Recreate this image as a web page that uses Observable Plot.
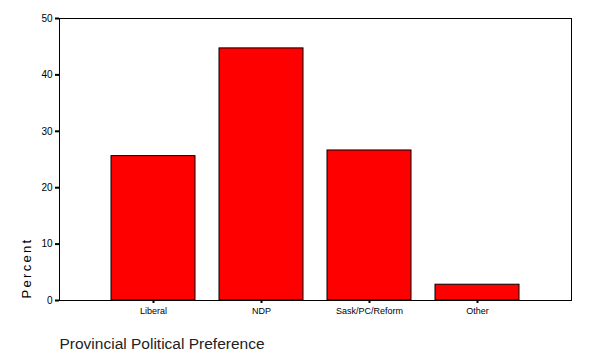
<!DOCTYPE html>
<html>
<head>
<meta charset="utf-8">
<script src="https://cdn.jsdelivr.net/npm/d3@7"></script>
<script src="https://cdn.jsdelivr.net/npm/@observablehq/plot@0.6"></script>
<style>
  body { margin: 0; background: #fff; }
  #chart svg { display: block; }
</style>
</head>
<body>
<div id="chart"></div>
<script>
const categories = ["Liberal", "NDP", "Sask/PC/Reform", "Other"];
const percents = [25.6, 44.7, 26.6, 2.8];
const yTicks = [0, 10, 20, 30, 40, 50];
const yLabel = "Percent";
const xLabel = "Provincial Political Preference";

const data = categories.map((c, i) => ({category: c, percent: percents[i]}));

const chart = Plot.plot({
  width: 590,
  height: 354,
  marginLeft: 59,
  marginRight: 19,
  marginTop: 18,
  marginBottom: 54,
  style: {fontFamily: "Arial, 'Liberation Sans', sans-serif", fontSize: "9px", color: "#000", background: "#fff"},
  x: {domain: categories, paddingInner: 0.22, paddingOuter: 0.47, label: null},
  y: {domain: [0, 50], label: null},
  marks: [
    Plot.barY(data, {x: "category", y: "percent", fill: "#ff0000", stroke: "#000", strokeWidth: 1}),
    Plot.frame({stroke: "#000", strokeWidth: 1}),
    Plot.axisY({ticks: yTicks, tickSize: 4, tickPadding: 3, strokeWidth: 2, fontSize: 10, label: null}),
    Plot.axisX({tickSize: 3, tickPadding: 4, strokeWidth: 2, fontSize: 9, label: null}),
    Plot.text([yLabel], {frameAnchor: "bottom-left", rotate: -90, dx: -29, dy: -2, textAnchor: "start", fontSize: 13, text: d => d, className: "ylab"}),
    Plot.text([xLabel], {frameAnchor: "bottom-left", dy: 48, textAnchor: "start", fontSize: 15.5, text: d => d, fill: "#222", className: "xlab"})
  ]
});
d3.select(chart).selectAll(".ylab text").attr("letter-spacing", "2.3px");
document.getElementById("chart").append(chart);
</script>
</body>
</html>
